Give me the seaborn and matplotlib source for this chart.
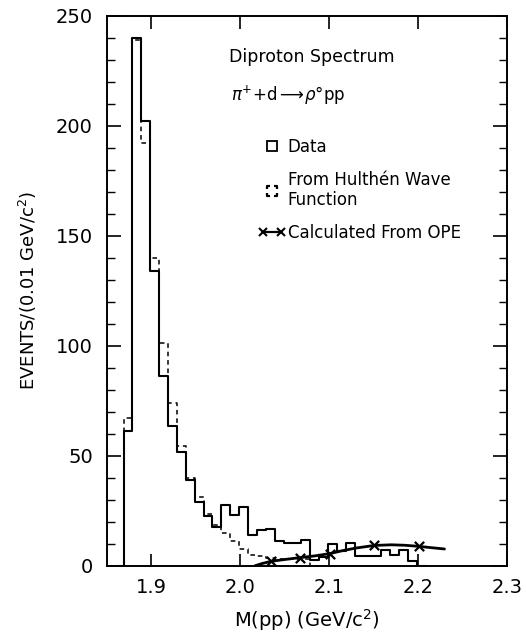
import numpy as np
import pandas as pd
import matplotlib
matplotlib.use("Agg")
import matplotlib.pyplot as plt
import seaborn as sns
from matplotlib.lines import Line2D
from matplotlib.path import Path
from matplotlib.legend_handler import HandlerLine2D
from matplotlib.ticker import MultipleLocator, FixedLocator

# ---------------- data ----------------
bin_start = 1.869         # GeV/c^2, lower edge of first bin
bin_width = 0.01          # GeV/c^2
data_counts = [61, 240, 202, 134, 86, 63.5, 51.5, 39, 29, 22.5,
               17.5, 27.5, 23, 26.5, 14, 16, 16.5, 11, 10.5, 10.5,
               11.5, 2.5, 4, 10, 6.8, 10.3, 4.3, 4.3, 4.3, 7,
               5, 7, 2]
hulthen_counts = [67, 239, 192, 140, 101, 74, 54.5, 40, 31, 23.5,
                  18.5, 15, 11, 7.5, 5, 4.5, 3.5, 3, 3, 3, 3]
ope_curve_x = [2.017, 2.025, 2.035, 2.050, 2.068, 2.085, 2.101, 2.115,
               2.130, 2.151, 2.170, 2.185, 2.201, 2.215, 2.230]
ope_curve_y = [0.0, 1.0, 2.0, 2.8, 3.7, 4.5, 5.5, 6.8,
               8.0, 9.2, 9.5, 9.3, 8.8, 8.2, 7.6]
ope_mark_x = [2.035, 2.068, 2.101, 2.151, 2.201]
ope_mark_y = [2.0, 3.7, 5.5, 9.2, 8.8]
x_ticks = [1.9, 2.0, 2.1, 2.2, 2.3]
x_tick_labels = ["1.9", "2.0", "2.1", "2.2", "2.3"]
y_ticks = [0, 50, 100, 150, 200, 250]
y_tick_labels = ["0", "50", "100", "150", "200", "250"]

# ---------------- figure ----------------
sns.set_theme(style="ticks")
plt.rcParams['font.family'] = ['DejaVu Sans']
plt.rcParams['mathtext.fontset'] = 'dejavusans'
for key in ["text.color", "axes.labelcolor", "xtick.color", "ytick.color",
            "axes.edgecolor"]:
    plt.rcParams[key] = "black"

fig = plt.figure(figsize=(5.26, 6.4), dpi=100)
ax = fig.add_axes([0.2028, 0.1161, 0.7605, 0.8594])


def hist_frame(counts):
    # one empty bin on each side so the outline drops to the baseline
    padded = [0] + list(counts) + [0]
    n = len(padded)
    start = bin_start - bin_width
    centers = start + bin_width * (np.arange(n) + 0.5)
    edges = [round(start + bin_width * k, 4) for k in range(n + 1)]
    return pd.DataFrame({"m": centers, "w": padded}), edges


hf, hedges = hist_frame(hulthen_counts)
sns.histplot(data=hf, x="m", weights="w", bins=hedges, element="step",
             fill=False, color="black", linewidth=1.1,
             linestyle=(0, (3, 2.5)), ax=ax)

df, dedges = hist_frame(data_counts)
sns.histplot(data=df, x="m", weights="w", bins=dedges, element="step",
             fill=False, color="black", linewidth=1.5, ax=ax)

sns.lineplot(x=ope_curve_x, y=ope_curve_y, color="black", linewidth=2.0,
             ax=ax)
sns.scatterplot(x=ope_mark_x, y=ope_mark_y, marker="x", s=45,
                color="black", linewidth=1.6, ax=ax, zorder=5)

ax.set_xlim(1.85, 2.3)
ax.set_ylim(0, 250)
ax.xaxis.set_major_locator(FixedLocator(x_ticks))
ax.set_xticklabels(x_tick_labels)
ax.yaxis.set_major_locator(FixedLocator(y_ticks))
ax.set_yticklabels(y_tick_labels)
ax.yaxis.set_minor_locator(MultipleLocator(10))

ax.tick_params(axis="both", which="both", direction="in", top=True,
               right=True, colors="black", labelsize=14)
ax.tick_params(axis="x", which="major", length=9, width=1.2, pad=9)
ax.tick_params(axis="y", which="major", length=10, width=1.2, pad=10)
ax.tick_params(axis="y", which="minor", length=6, width=1.0)
for s in ax.spines.values():
    s.set_linewidth(1.4)
    s.set_color("black")
    s.set_zorder(6)

ax.set_xlabel("M(pp) (GeV/c$^{2}$)", fontsize=14, labelpad=7)
ax.set_ylabel("EVENTS/(0.01 GeV/c$^{2}$)", fontsize=13, labelpad=12)

# ---------------- annotations / legend ----------------
ax.text(0.306, 0.925, "Diproton Spectrum", transform=ax.transAxes,
        fontsize=12.5, ha="left", va="center")
ax.text(0.31, 0.855, r"$\pi^{+}$+d$\longrightarrow\!\rho$°pp",
        transform=ax.transAxes, fontsize=12, ha="left", va="center")

verts, codes = [], []
for a, b, c in [((-1, -0.35), (-1, -1), (-0.35, -1)),
                ((0.35, -1), (1, -1), (1, -0.35)),
                ((1, 0.35), (1, 1), (0.35, 1)),
                ((-0.35, 1), (-1, 1), (-1, 0.35))]:
    verts += [a, b, c]
    codes += [Path.MOVETO, Path.LINETO, Path.LINETO]
dashed_square = Path(verts, codes)

h_data = Line2D([], [], ls="none", marker="s", markersize=7,
                mfc="none", mec="black", mew=1.3)
h_hul = Line2D([], [], ls="none", marker=dashed_square, markersize=7,
               mfc="none", mec="black", mew=1.6)
h_ope = Line2D([], [], color="black", lw=1.6, marker="x", markersize=6,
               mew=1.5)
ax.legend([h_data, h_hul, h_ope],
          ["Data", "From Hulthén Wave\nFunction", "Calculated From OPE"],
          handler_map={h_ope: HandlerLine2D(numpoints=2, marker_pad=0.0)},
          numpoints=1, loc="upper left", bbox_to_anchor=(0.39, 0.7785),
          borderpad=0, borderaxespad=0, frameon=False, handlelength=1.1,
          handletextpad=0.4, labelspacing=0.9, fontsize=12)

fig.savefig("out.png", dpi=100)
